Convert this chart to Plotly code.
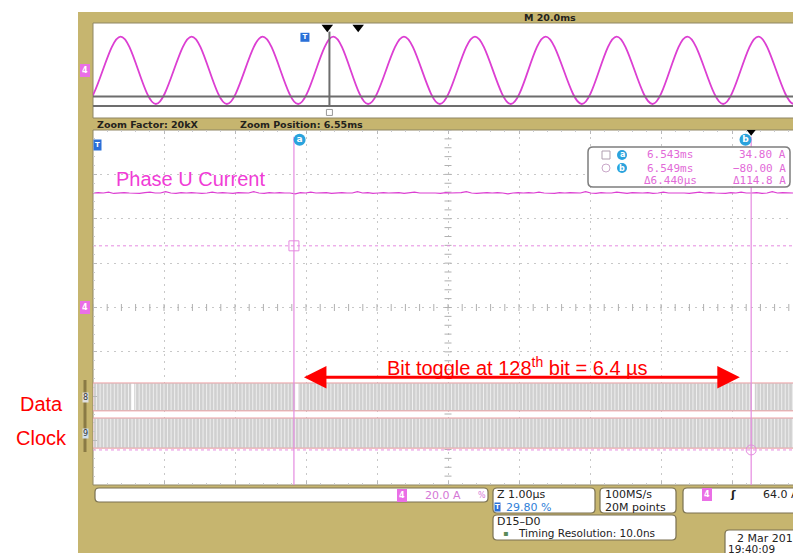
import plotly.graph_objects as go
import numpy as np

W, H = 793, 553

# ---- overview record (M 20.0 ms/div), time in ms, amplitude normalised to +-1
peak_ms = [-12.2, 7.8, 27.8, 47.8, 67.7, 87.6, 107.6, 127.5, 147.5, 167.4, 187.4, 207.4]
trough_ms = [-2.3, 17.7, 37.7, 57.8, 77.5, 97.7, 117.7, 137.7, 157.6, 177.5, 197.5]
digital_overview_levels = [-0.78, -1.06]
zoom_position_ms = 66.6
overview_marker_ms = [66.0, 74.7]
overview_trigger_ms = 59.7

# ---- zoom window (1.00 us/div, 8 divisions vertical, values in divisions)
phase_u_current = [2.58, 2.59, 2.58, 2.60, 2.57, 2.58, 2.59, 2.58, 2.58, 2.57, 2.59, 2.60, 2.58, 2.58,
                   2.61, 2.58, 2.57, 2.59, 2.58, 2.59, 2.58, 2.57, 2.58, 2.60, 2.58, 2.59, 2.58, 2.57,
                   2.59, 2.58, 2.58, 2.61, 2.58, 2.57, 2.59, 2.58, 2.59, 2.58, 2.58, 2.56, 2.59, 2.58,
                   2.60, 2.58, 2.58, 2.59, 2.57, 2.58, 2.59, 2.58, 2.58, 2.61, 2.58, 2.59, 2.57, 2.58,
                   2.59, 2.58, 2.58, 2.59, 2.57, 2.58, 2.60, 2.58, 2.58, 2.59, 2.58, 2.57, 2.59, 2.58,
                   2.58, 2.59, 2.61, 2.58, 2.57, 2.58, 2.59, 2.58, 2.59, 2.58, 2.56, 2.58, 2.59, 2.58,
                   2.59, 2.58, 2.60, 2.58, 2.58, 2.57, 2.59, 2.58, 2.59, 2.58, 2.58, 2.61, 2.58, 2.57,
                   2.59, 2.58, 2.58, 2.60, 2.58, 2.57, 2.59, 2.58, 2.58, 2.59, 2.57, 2.58, 2.60, 2.58,
                   2.58, 2.59, 2.58, 2.57, 2.58, 2.60, 2.58, 2.59, 2.58, 2.58, 2.57, 2.59, 2.58, 2.60,
                   2.58, 2.58, 2.59, 2.57, 2.58, 2.61, 2.58, 2.59, 2.58, 2.58]
cursor_us = [-2.17, 4.27]
cursor_levels = [1.39, -3.21]
bit_period_us = 0.05
data_gaps_us = [-4.44, -2.13, 4.30]
data_band = [-1.70, -2.33]
clock_band = [-2.49, -3.17]
arrow_us = [-2.05, 4.11]
arrow_level = -1.57

X_MIN, X_MAX = -5, (W - 448) / 71
OV_MAX = (W - 93) / 3.55

TAN = "#c6b56f"
MAG = "#dc3fd2"
CUR = "#e58be0"
RED = "#ff0000"
DARK = "#23221c"
BLUE = "#2aa3dd"


def px(x):
    return x / W


def py(y):
    return 1 - y / H


def note(x, y, s, size=10, color=DARK, anchor="left", family="DejaVu Sans", weight="normal", **kw):
    return dict(x=px(x), y=py(y), xref="paper", yref="paper", text=s, showarrow=False,
                xanchor=anchor, yanchor="middle",
                font=dict(size=size, color=color, family=family, weight=weight), **kw)


def rbox(x0, y0, x1, y1, r=4, fill="white", line="#7a7152", width=1.2, layer="below"):
    rx, ry = r / W, r / H
    a, b, c, d = px(x0), py(y1), px(x1), py(y0)
    path = (f"M{a+rx},{b} L{c-rx},{b} Q{c},{b} {c},{b+ry} L{c},{d-ry} Q{c},{d} {c-rx},{d} "
            f"L{a+rx},{d} Q{a},{d} {a},{d-ry} L{a},{b+ry} Q{a},{b} {a+rx},{b} Z")
    return dict(type="path", path=path, xref="paper", yref="paper", fillcolor=fill,
                line=dict(color=line, width=width), layer=layer)


fig = go.Figure()

# overview sine through the read peaks / troughs
pts = sorted([(t, 1.0) for t in peak_ms] + [(t, -1.0) for t in trough_ms])
fig.add_trace(go.Scatter(x=[p[0] for p in pts], y=[p[1] for p in pts], mode="lines",
                         line=dict(color=MAG, width=1.8, shape="spline", smoothing=1.0),
                         xaxis="x", yaxis="y", hoverinfo="skip"))
for lv in digital_overview_levels:
    fig.add_trace(go.Scatter(x=[0, OV_MAX], y=[lv, lv], mode="lines",
                             line=dict(color="#6d6d6d", width=2), xaxis="x", yaxis="y"))
fig.add_trace(go.Scatter(x=[zoom_position_ms, zoom_position_ms], y=[1.15, -1.09], mode="lines",
                         line=dict(color="#6d6d6d", width=2), xaxis="x", yaxis="y"))
fig.add_trace(go.Scatter(x=[zoom_position_ms], y=[-1.25], mode="markers",
                         marker=dict(symbol="square-open", size=6, color="#999999"),
                         xaxis="x", yaxis="y"))
fig.add_trace(go.Scatter(x=overview_marker_ms, y=[1.28, 1.28], mode="markers",
                         marker=dict(symbol="triangle-down", size=10, color="black"),
                         xaxis="x", yaxis="y"))
fig.add_trace(go.Scatter(x=[overview_trigger_ms], y=[0.98], mode="markers+text", text=["T"],
                         textfont=dict(color="white", size=7, family="DejaVu Sans", weight="bold"),
                         marker=dict(symbol="square", size=9, color="#2a70d8"),
                         xaxis="x", yaxis="y"))

# center crosshair ticks of the zoom graticule
ticks_x = np.arange(-5, 5.01, 0.2)
ticks_y = np.arange(-4, 4.01, 0.2)
fig.add_trace(go.Scatter(x=ticks_x, y=np.zeros_like(ticks_x), mode="markers",
                         marker=dict(symbol="line-ns", size=5, line=dict(color="#b0b0b0", width=1)),
                         xaxis="x2", yaxis="y2"))
fig.add_trace(go.Scatter(x=np.zeros_like(ticks_y), y=ticks_y, mode="markers",
                         marker=dict(symbol="line-ew", size=5, line=dict(color="#b0b0b0", width=1)),
                         xaxis="x2", yaxis="y2"))

# digital bands (data / clock)
for top, bot in (data_band, clock_band):
    fig.add_trace(go.Scatter(x=[-5, X_MAX + 0.2, X_MAX + 0.2, -5, -5], y=[top, top, bot, bot, top],
                             mode="lines", fill="toself", fillcolor="#d0d0d0",
                             line=dict(color="#eea2a6", width=1), xaxis="x2", yaxis="y2"))
edges = np.arange(-5, X_MAX + 0.05, bit_period_us)
sx, sy = [], []
for e in edges:
    for top, bot in (data_band, clock_band):
        sx += [e, e, None]
        sy += [top - 0.02, bot + 0.02, None]
fig.add_trace(go.Scatter(x=sx, y=sy, mode="lines", line=dict(color="#f6f6f6", width=0.8),
                         xaxis="x2", yaxis="y2", hoverinfo="skip"))
gx, gy = [], []
for g in data_gaps_us:
    gx += [g, g, None]
    gy += [data_band[0] - 0.02, data_band[1] + 0.02, None]
fig.add_trace(go.Scatter(x=gx, y=gy, mode="lines", line=dict(color="white", width=3),
                         xaxis="x2", yaxis="y2"))

# phase U current
fig.add_trace(go.Scatter(x=np.linspace(-5, X_MAX, len(phase_u_current)), y=phase_u_current,
                         mode="lines", line=dict(color=MAG, width=1.2), xaxis="x2", yaxis="y2"))

# cursors
for c in cursor_us:
    fig.add_trace(go.Scatter(x=[c, c], y=[3.85, -4], mode="lines",
                             line=dict(color=CUR, width=1.2), xaxis="x2", yaxis="y2"))
for lv in cursor_levels:
    fig.add_trace(go.Scatter(x=[-5, X_MAX], y=[lv, lv], mode="lines",
                             line=dict(color=CUR, width=1, dash="3px,3px"), xaxis="x2", yaxis="y2"))
fig.add_trace(go.Scatter(x=cursor_us, y=cursor_levels, mode="markers",
                         marker=dict(symbol=["square-open", "circle-open"], size=10,
                                     color=CUR, line=dict(width=1)),
                         xaxis="x2", yaxis="y2"))
fig.add_trace(go.Scatter(x=[cursor_us[0] + 0.08, cursor_us[1] - 0.08], y=[3.78, 3.78],
                         mode="markers+text", text=["a", "b"],
                         textfont=dict(color="white", size=9, family="DejaVu Sans", weight="bold"),
                         marker=dict(symbol="circle", size=12, color=BLUE),
                         xaxis="x2", yaxis="y2"))
fig.add_trace(go.Scatter(x=[cursor_us[1]], y=[3.97], mode="markers",
                         marker=dict(symbol="triangle-down", size=9, color="black"),
                         xaxis="x2", yaxis="y2"))

shapes = [
    dict(type="rect", xref="paper", yref="paper", x0=px(78), x1=1, y0=0, y1=py(12),
         fillcolor=TAN, line=dict(width=0), layer="below"),
    dict(type="rect", xref="paper", yref="paper", x0=px(93), x1=1.01, y0=py(118), y1=py(23),
         fillcolor="white", line=dict(color="#8f8665", width=1), layer="below"),
    dict(type="rect", xref="paper", yref="paper", x0=px(93), x1=1.01, y0=py(485), y1=py(130),
         fillcolor="white", line=dict(color="#8f8665", width=1), layer="below"),
    # readout box
    rbox(588, 147, 790, 187, r=5, line="#7d7d7d", width=1.5, layer="above"),
    # status bar boxes
    rbox(95, 488, 488, 502, r=4),
    rbox(493, 488, 595, 513, r=4),
    rbox(600, 488, 676, 513, r=4),
    rbox(683, 488, 800, 513, r=4),
    rbox(493, 515, 676, 540, r=4),
    rbox(725, 530, 800, 560, r=4),
    # readout icons
    dict(type="rect", xref="paper", yref="paper", x0=px(602), x1=px(610), y0=py(159), y1=py(151),
         line=dict(color="#b0a0b0", width=1), layer="above"),
    dict(type="circle", xref="paper", yref="paper", x0=px(602), x1=px(610), y0=py(172), y1=py(164),
         line=dict(color="#c9a8c9", width=1), layer="above"),
    dict(type="circle", xref="paper", yref="paper", x0=px(617), x1=px(627), y0=py(160), y1=py(150),
         fillcolor=BLUE, line=dict(width=0), layer="above"),
    dict(type="circle", xref="paper", yref="paper", x0=px(617), x1=px(627), y0=py(173), y1=py(163),
         fillcolor=BLUE, line=dict(width=0), layer="above"),
    # digital group bracket on the left rail
    dict(type="line", xref="paper", yref="paper", x0=px(85), x1=px(85), y0=py(380), y1=py(452),
         line=dict(color="#8a7a45", width=3), layer="below"),
]

pink_tag = dict(bgcolor="#ea6fe6", bordercolor="#ea6fe6", borderpad=1)
ro = "#e26ad8"
annotations = [
    note(522, 17, "M 20.0ms", size=9.5, weight="bold"),
    note(95, 124, "Zoom Factor: 20kX", size=9.5, weight="bold"),
    note(238, 124, "Zoom Position: 6.55ms", size=9.5, weight="bold"),
    note(114, 179, "Phase U Current", size=20, color="#f03cd6", family="Liberation Sans"),
    note(517, 366, "Bit toggle at 128<sup>th</sup> bit = 6.4 µs", size=20, color=RED,
         family="Liberation Sans", anchor="center"),
    note(41, 404, "Data", size=20, color=RED, family="Liberation Sans", anchor="center"),
    note(41, 438, "Clock", size=20, color=RED, family="Liberation Sans", anchor="center"),
    # readout
    note(622, 155, "a", size=8, color="white", anchor="center", weight="bold"),
    note(622, 168, "b", size=8, color="white", anchor="center", weight="bold"),
    note(645, 155, "6.543ms", size=11, color=ro, family="DejaVu Sans Mono"),
    note(645, 168, "6.549ms", size=11, color=ro, family="DejaVu Sans Mono"),
    note(642, 181, "Δ6.440µs", size=11, color=ro, family="DejaVu Sans Mono"),
    note(788, 155, "34.80 A", size=11, color=ro, family="DejaVu Sans Mono", anchor="right"),
    note(788, 168, "−80.00 A", size=11, color=ro, family="DejaVu Sans Mono", anchor="right"),
    note(788, 181, "Δ114.8 A", size=11, color=ro, family="DejaVu Sans Mono", anchor="right"),
    # left rail tags
    note(85, 70, "4", size=8, color="white", anchor="center", weight="bold", **pink_tag),
    note(85, 307, "4", size=8, color="white", anchor="center", weight="bold", **pink_tag),
    note(97, 145, "T", size=7, color="white", anchor="center", weight="bold",
         bgcolor="#2a70d8", borderpad=1),
    note(85, 397, "8", size=8, color="#333", anchor="center", bgcolor="#e0e0e0", borderpad=0),
    note(85, 433, "9", size=8, color="#333", anchor="center", bgcolor="#cfe0ef", borderpad=0),
    # status bar
    note(402, 495, "4", size=8, color="white", anchor="center", weight="bold", **pink_tag),
    note(423, 495, "20.0 A", size=11, color="#d577d6"),
    note(476, 495, "%", size=8, color="#d577d6"),
    note(495, 494, "Z 1.00µs", size=11),
    note(497, 507, "T", size=7, color="white", anchor="center", weight="bold",
         bgcolor="#2a70d8", borderpad=0),
    note(504, 507, "29.80 %", size=11, color="#2f80d8"),
    note(603, 494, "100MS/s", size=11),
    note(603, 507, "20M points", size=11),
    note(707, 494, "4", size=8, color="white", anchor="center", weight="bold", **pink_tag),
    note(728, 494, "ʃ", size=11, weight="bold"),
    note(761, 494, "64.0 A", size=11),
    note(495, 521, "D15–D0", size=11),
    note(505, 533, "▪", size=8, color="#5a8a5a", anchor="center"),
    note(516, 533, "Timing Resolution: 10.0ns", size=10.5),
    note(735, 538, "2 Mar 2015", size=11),
    note(726, 549, "19:40:09", size=10.5),
]

# arrow for the 128-bit span
annotations.append(dict(x=arrow_us[1], y=arrow_level, ax=arrow_us[0], ay=arrow_level,
                        xref="x2", yref="y2", axref="x2", ayref="y2", text="", showarrow=True,
                        arrowside="end+start", arrowhead=2, arrowsize=1.5, arrowwidth=3,
                        arrowcolor=RED))

grid = dict(showgrid=True, gridcolor="#c8c8c8", griddash="2px,5px", gridwidth=1,
            zeroline=False, showticklabels=False,
            ticks="inside", ticklen=4, tickcolor="#b8b8b8", dtick=1, tick0=0,
            minor=dict(ticks="inside", ticklen=2, dtick=0.2, tickcolor="#c8c8c8", showgrid=False),
            fixedrange=True)

fig.update_layout(
    width=W, height=H,
    margin=dict(l=0, r=0, t=0, b=0),
    paper_bgcolor="white",
    plot_bgcolor="rgba(0,0,0,0)",
    showlegend=False,
    shapes=shapes,
    annotations=annotations,
    xaxis=dict(domain=[px(93), 1], range=[0, OV_MAX], visible=False, fixedrange=True),
    yaxis=dict(domain=[py(118), py(23)], range=[-1.415, 1.404], visible=False, fixedrange=True),
    xaxis2=dict(domain=[px(93), 1], range=[X_MIN, X_MAX], anchor="y2", mirror="ticks", **grid),
    yaxis2=dict(domain=[py(485), py(130)], range=[-4, 4], anchor="x2", **grid),
)

fig.write_html("out.html", config={"displayModeBar": False},
               post_script="document.body.style.margin='0';")
